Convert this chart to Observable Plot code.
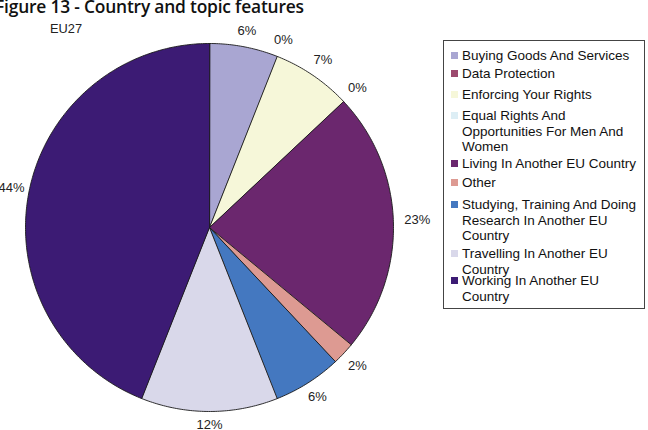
<!DOCTYPE html>
<html>
<head>
<meta charset="utf-8">
<script src="https://cdn.jsdelivr.net/npm/d3@7"></script>
<script src="https://cdn.jsdelivr.net/npm/@observablehq/plot@0.6"></script>
<style>
  html, body { margin: 0; padding: 0; background: #fff; }
  #wrap { position: relative; width: 648px; height: 430px; overflow: hidden; font-family: "Liberation Sans", Arial, sans-serif; }
  #title { position: absolute; left: -5px; top: -6px; font-family: "Open Sans", sans-serif; font-weight: 600; font-size: 17.4px; color: #111; white-space: nowrap; letter-spacing: -0.2px; }
  #sub { position: absolute; left: 50px; top: 21px; font-size: 12.8px; color: #222; }
  #legend { position: absolute; left: 443px; top: 40px; width: 202px; height: 269px; border: 1px solid #444; box-sizing: border-box; }
  .item { position: absolute; left: 18px; font-size: 13.5px; line-height: 15.6px; color: #111; width: 179px; }
  .sw { position: absolute; left: -11px; top: 4px; width: 7px; height: 7px; }
  #chart { position: absolute; left: 0; top: 0; }
</style>
</head>
<body>
<div id="wrap">
  <div id="chart"></div>
  <div id="title">Figure 13 - Country and topic features</div>
  <div id="sub">EU27</div>
  <div id="legend"></div>
</div>
<script>
// Topics, share of enquiries (%), clockwise from 12 o'clock
const topics = [
  "Buying Goods And Services",
  "Data Protection",
  "Enforcing Your Rights",
  "Equal Rights And Opportunities For Men And Women",
  "Living In Another EU Country",
  "Other",
  "Studying, Training And Doing Research In Another EU Country",
  "Travelling In Another EU Country",
  "Working In Another EU Country"
];
const shares = [6, 0, 7, 0, 23, 2, 6, 12, 44];
const colors = ["#a9a6d2", "#9c4a6e", "#f6f7d9", "#ddeef5", "#6b276e", "#dd9a92", "#4478c0", "#d9d8ea", "#3c1b74"];
// legend entry top offsets inside the box
const legendTops = [7, 25, 46, 67, 115, 134, 156, 205, 232];

const W = 648, H = 430, cx = 209, cy = 227, R = 184;

const pie = d3.pie().sort(null).value(d => d.share).startAngle(0).endAngle(2 * Math.PI);
const data = topics.map((t, i) => ({topic: t, share: shares[i], color: colors[i]}));
const arcs = pie(data);

// Slice outlines as polygons in unit-circle coordinates (y up)
const slicePts = [];
arcs.forEach(a => {
  if (a.data.share === 0) return;
  const n = Math.max(2, Math.ceil((a.endAngle - a.startAngle) * 80));
  slicePts.push({topic: a.data.topic, x: 0, y: 0});
  for (let k = 0; k <= n; k++) {
    const t = a.startAngle + (a.endAngle - a.startAngle) * k / n;
    slicePts.push({topic: a.data.topic, x: Math.sin(t), y: Math.cos(t)});
  }
});

// Value labels outside the rim, kept inside the left edge
const labels = arcs.map(a => {
  const m = (a.startAngle + a.endAngle) / 2;
  const txt = a.data.share + "%";
  const hw = txt.length * 3.7;
  const d = (14 + hw * Math.abs(Math.sin(m)) * 0.9) / R;
  let x = (1 + d) * Math.sin(m);
  x = Math.max(x, (11 - cx) / R);
  return {text: txt, x, y: (1 + d) * Math.cos(m)};
});

const plot = Plot.plot({
  width: W,
  height: H,
  margin: 0,
  x: {domain: [-cx / R, (W - cx) / R], range: [0, W], axis: null},
  y: {domain: [-(H - cy) / R, cy / R], range: [H, 0], axis: null},
  color: {domain: topics, range: colors},
  style: {background: "transparent"},
  marks: [
    Plot.line(slicePts, {x: "x", y: "y", z: "topic", fill: "topic", stroke: "#1a1a1a", strokeWidth: 0.9, curve: "linear-closed"}),
    Plot.text(labels, {x: "x", y: "y", text: "text", fontSize: 13, fill: "#222", fontFamily: "Liberation Sans, Arial, sans-serif", dy: -1})
  ]
});
document.getElementById("chart").appendChild(plot);

// Legend box
const leg = document.getElementById("legend");
topics.forEach((t, i) => {
  const el = document.createElement("div");
  el.className = "item";
  el.style.top = legendTops[i] + "px";
  el.textContent = t;
  const sw = document.createElement("span");
  sw.className = "sw";
  sw.style.background = colors[i];
  el.appendChild(sw);
  leg.appendChild(el);
});
</script>
</body>
</html>
